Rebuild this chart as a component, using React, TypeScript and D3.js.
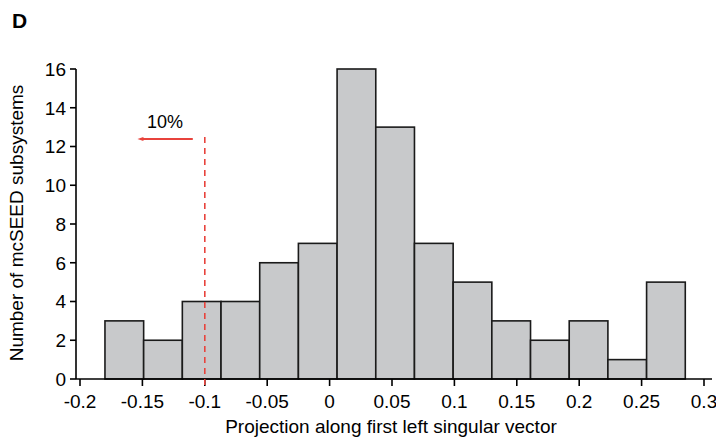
import React from "react";
import * as d3 from "d3";

// Histogram of projections along the first left singular vector
const binCounts: number[] = [3, 2, 4, 4, 6, 7, 16, 13, 7, 5, 3, 2, 3, 1, 5];
const binLow = -0.18;
const binHigh = 0.285;
const xTicks: number[] = [-0.2, -0.15, -0.1, -0.05, 0, 0.05, 0.1, 0.15, 0.2, 0.25, 0.3];
const yTicks: number[] = [0, 2, 4, 6, 8, 10, 12, 14, 16];
const cutoff = -0.1;
const cutoffLabel = "10%";

const W = 716;
const H = 439;
const FONT = "'Liberation Sans', Arial, Helvetica, sans-serif";
const RED = "#e8433c";

export default function App() {
  const x = d3.scaleLinear().domain([-0.2, 0.3]).range([80, 704]);
  const y = d3.scaleLinear().domain([0, 16]).range([379, 69]);
  const y0 = y(0);
  const axisLeft = 76;

  const binW = (binHigh - binLow) / binCounts.length;
  const bins = binCounts.map((c, i) => ({
    x0: binLow + i * binW,
    x1: binLow + (i + 1) * binW,
    c,
  }));

  const xc = x(cutoff);
  const arrowTip = x(-0.154);

  return (
    <svg
      width={W}
      height={H}
      style={{ position: "absolute", left: 0, top: 0, background: "#fff" }}
      fontFamily={FONT}
    >
      <text x={12} y={28} fontSize={21} fontWeight="bold" fill="#000">
        D
      </text>

      {/* bars */}
      {bins.map((b, i) => (
        <rect
          key={i}
          x={x(b.x0)}
          y={y(b.c)}
          width={x(b.x1) - x(b.x0)}
          height={y0 - y(b.c)}
          fill="#c8c9cb"
          stroke="#1a1a1a"
          strokeWidth={1.6}
        />
      ))}

      {/* y axis */}
      <line x1={axisLeft} x2={axisLeft} y1={y(16)} y2={y0} stroke="#000" strokeWidth={1.6} />
      {yTicks.map((t) => (
        <g key={t}>
          <line x1={axisLeft - 6} x2={axisLeft} y1={y(t)} y2={y(t)} stroke="#000" strokeWidth={1.6} />
          <text x={axisLeft - 10} y={y(t)} dy="0.36em" textAnchor="end" fontSize={19} fill="#000">
            {t}
          </text>
        </g>
      ))}

      {/* x axis */}
      <line x1={axisLeft} x2={712} y1={y0} y2={y0} stroke="#000" strokeWidth={1.6} />
      {xTicks.map((t) => (
        <g key={t}>
          <line x1={x(t)} x2={x(t)} y1={y0} y2={y0 + 7} stroke="#000" strokeWidth={1.6} />
          <text x={x(t)} y={408} textAnchor="middle" fontSize={19} fill="#000">
            {String(+t.toFixed(2))}
          </text>
        </g>
      ))}

      {/* cutoff marker */}
      <line
        x1={xc}
        x2={xc}
        y1={137}
        y2={390}
        stroke={RED}
        strokeWidth={1.6}
        strokeDasharray="6,5"
      />
      <line x1={xc - 12} x2={arrowTip + 4} y1={139} y2={139} stroke={RED} strokeWidth={2} />
      <path d={`M${arrowTip},139 l6,-2 l0,4 z`} fill={RED} />
      <text x={165} y={128} textAnchor="middle" fontSize={18} fill="#000">
        {cutoffLabel}
      </text>

      {/* axis titles */}
      <text x={391} y={433} textAnchor="middle" fontSize={19} fill="#000">
        Projection along first left singular vector
      </text>
      <text
        transform={`translate(23,223) rotate(-90)`}
        textAnchor="middle"
        fontSize={19}
        fill="#000"
      >
        Number of mcSEED subsystems
      </text>
    </svg>
  );
}
